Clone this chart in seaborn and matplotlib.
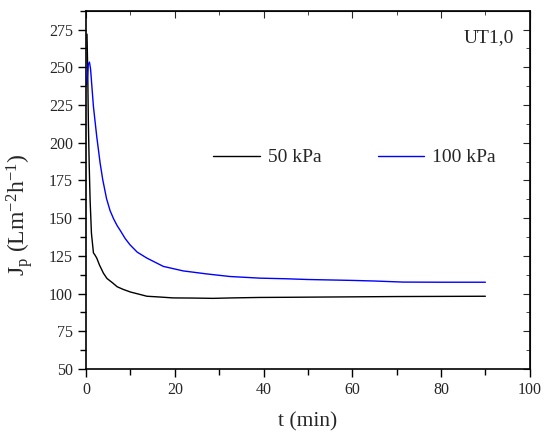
import pandas as pd
import matplotlib
matplotlib.use("Agg")
import matplotlib.pyplot as plt
from matplotlib.ticker import MultipleLocator
import seaborn as sns

# 50 kPa curve
t_50 = [0.2, 0.35, 0.5, 0.7, 0.9, 1.2, 1.65, 2.0, 2.4, 3.0, 3.9, 4.7, 6.0, 7.0, 8.4,
        10, 12, 13.7, 16, 19.6, 24, 28.6, 33, 39, 45, 50, 60, 70, 80, 90]
jp_50 = [272, 250, 215, 185, 162, 140, 127, 125.5, 123.5, 119, 113.5, 110, 107, 104.5, 102.7,
         101, 99.5, 98.2, 97.8, 97.1, 97.0, 96.8, 97.1, 97.4, 97.5, 97.6, 97.8, 98.0, 98.1, 98.2]

# 100 kPa curve
t_100 = [0.15, 0.5, 0.75, 1.0, 1.65, 2.4, 3.15, 3.75, 4.6, 5.4, 6.2, 7.0, 7.7, 8.8, 9.9, 11.5, 13.7,
         17.4, 21.9, 27.2, 32.4, 39.2, 45, 50, 55, 60, 65, 71.4, 80, 90]
jp_100 = [238.5, 252, 253.5, 249, 224, 204, 186.7, 175.5, 163, 155, 149.5, 145, 141.8, 136.5, 132.3,
          127.5, 123.5, 118, 115, 113, 111.3, 110.2, 109.8, 109.3, 109.0, 108.7, 108.3, 107.6, 107.5, 107.5]

df = pd.concat([
    pd.DataFrame({'t': t_50, 'Jp': jp_50, 'p': '50 kPa'}),
    pd.DataFrame({'t': t_100, 'Jp': jp_100, 'p': '100 kPa'}),
])

sns.set_style('ticks')
plt.rcParams['font.family'] = ['Liberation Serif', 'DejaVu Serif']
plt.rcParams['mathtext.fontset'] = 'custom'
plt.rcParams['mathtext.rm'] = 'Liberation Serif'
plt.rcParams['mathtext.it'] = 'Liberation Serif'

fig = plt.figure(figsize=(5.45, 4.32), dpi=100)
ax = fig.add_axes([0.158, 0.146, 0.814, 0.829])

sns.lineplot(data=df, x='t', y='Jp', hue='p', palette={'50 kPa': 'black', '100 kPa': '#0000ff'},
             linewidth=1.0, ax=ax, sort=False, estimator=None)

ax.set_xlim(0, 100)
ax.set_ylim(50, 287.5)
ax.xaxis.set_major_locator(MultipleLocator(20))
ax.xaxis.set_minor_locator(MultipleLocator(10))
ax.yaxis.set_major_locator(MultipleLocator(25))
ax.yaxis.set_minor_locator(MultipleLocator(12.5))
ax.tick_params(which='major', direction='out', length=6, width=1, labelsize=11.5, color='black')
ax.tick_params(which='minor', direction='out', length=4, width=1, color='black')
for s in ax.spines.values():
    s.set_linewidth(1.2)
    s.set_color('black')

# inward ticks on the top and right sides
top = ax.secondary_xaxis('top')
top.xaxis.set_major_locator(MultipleLocator(20))
top.xaxis.set_minor_locator(MultipleLocator(10))
top.tick_params(which='both', direction='in', labeltop=False)
top.tick_params(which='major', length=5)
top.tick_params(which='minor', length=3)
right = ax.secondary_yaxis('right')
right.yaxis.set_major_locator(MultipleLocator(25))
right.yaxis.set_minor_locator(MultipleLocator(12.5))
right.tick_params(which='both', direction='in', labelright=False)
right.tick_params(which='major', length=5)
right.tick_params(which='minor', length=3)

ax.set_xlabel('t (min)', fontsize=15.5)
ax.set_ylabel(r'J$_\mathrm{p}$ (Lm$^{\mathrm{-2}}$h$^{\mathrm{-1}}$)', fontsize=17)
ax.xaxis.set_label_coords(0.5, -0.12)
ax.yaxis.set_label_coords(-0.115, 0.43)

ax.legend(title=None, ncol=2, frameon=False, fontsize=14, loc='center',
          bbox_to_anchor=(0.605, 0.59), handlelength=2.4, columnspacing=2.9, handletextpad=0.4)
ax.text(0.965, 0.925, 'UT1,0', transform=ax.transAxes, ha='right', va='center', fontsize=14)

plt.savefig('out.png', dpi=100)
